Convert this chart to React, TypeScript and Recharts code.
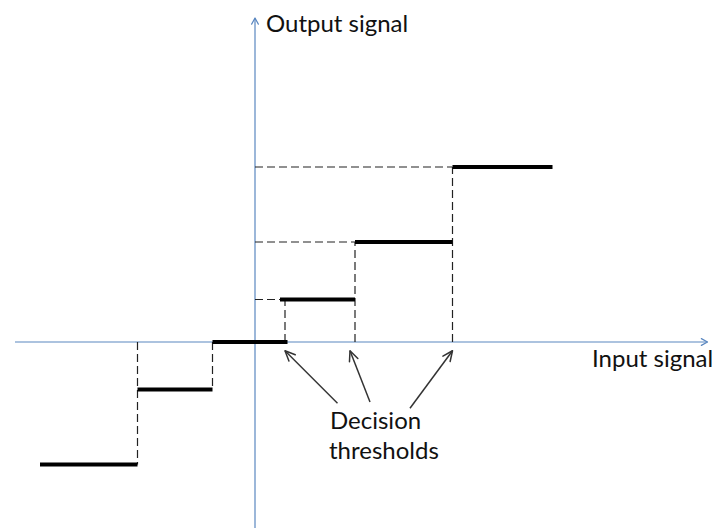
import React from "react";
import { LineChart, Line, XAxis, YAxis } from "recharts";

// ---- data (arbitrary signal units) ----
const thresholds = [-4.7, -1.7, 1.2, 4.0, 7.9];
const levels = [-4.9, -1.9, 0, 1.7, 4.0, 7.0];
const stepStarts = [-8.6, -4.7, -1.7, 1.0, 4.0, 7.9];
const stepEnds = [-4.7, -1.7, 1.3, 4.0, 7.9, 11.9];
const arrowTails = [
  [3.3, -2.45],
  [4.6, -2.4],
  [6.2, -2.65],
];
const arrowHeads = [
  [1.2, -0.35],
  [3.8, -0.35],
  [7.9, -0.35],
];
const xAxisRange = [-9.6, 18.1];
const yAxisRange = [-7.44, 12.96];
const xDomain = [-10.2, 18.28];
const yDomain = [-7.44, 13.68];
const yAxisTitle = "Output signal";
const xAxisTitle = "Input signal";
const annotationLines = ["Decision", "thresholds"];

const W = 712;
const H = 528;
const AXIS_COLOR = "#5a87c0";
const FONT = "Lato, 'Open Sans', sans-serif";

type Pt = { x: number; y: number };

const seg = (x1: number, y1: number, x2: number, y2: number): Pt[] => [
  { x: x1, y: y1 },
  { x: x2, y: y2 },
];

const steps = levels.map((lv, i) => seg(stepStarts[i], lv, stepEnds[i], lv));
const hGuides = levels
  .map((lv, i) => (lv > 0 ? seg(0, lv, stepStarts[i], lv) : null))
  .filter(Boolean) as Pt[][];
const vGuides = thresholds.map((t, j) =>
  seg(t, 0, t, t < 0 ? levels[j] : levels[j + 1])
);
const arrows = arrowTails.map((tl, i) =>
  seg(tl[0], tl[1], arrowHeads[i][0], arrowHeads[i][1])
);
const xAxisLine = seg(xAxisRange[0], 0, xAxisRange[1], 0);
const yAxisLine = seg(0, yAxisRange[0], 0, yAxisRange[1]);

const arrowDot =
  (data: Pt[], len: number, spread: number, color: string, width: number) =>
  (props: any) => {
    const { cx, cy, index, points } = props;
    const k = `ad-${index}-${cx}-${cy}`;
    if (index !== data.length - 1) return <g key={k} />;
    let ang: number;
    if (points && points[index - 1]) {
      const p = points[index - 1];
      ang = Math.atan2(cy - p.y, cx - p.x);
    } else {
      const a = data[index - 1];
      const b = data[index];
      ang = Math.atan2(-(b.y - a.y), b.x - a.x);
    }
    const a1 = ang + Math.PI - spread;
    const a2 = ang + Math.PI + spread;
    const d = `M ${cx + len * Math.cos(a1)} ${cy + len * Math.sin(a1)} L ${cx} ${cy} L ${
      cx + len * Math.cos(a2)
    } ${cy + len * Math.sin(a2)}`;
    return (
      <path
        key={k}
        d={d}
        fill="none"
        stroke={color}
        strokeWidth={width}
        strokeLinecap="round"
        strokeLinejoin="round"
      />
    );
  };

export default function App() {
  return (
    <div
      style={{
        position: "absolute",
        left: 0,
        top: 0,
        width: W,
        height: H,
        background: "#fff",
        overflow: "hidden",
      }}
    >
      <LineChart
        width={W}
        height={H}
        margin={{ top: 0, right: 0, bottom: 0, left: 0 }}
      >
        <XAxis
          type="number"
          dataKey="x"
          domain={xDomain}
          allowDataOverflow
          hide
        />
        <YAxis
          type="number"
          dataKey="y"
          domain={yDomain}
          allowDataOverflow
          hide
          width={0}
        />
        <Line
          data={xAxisLine}
          dataKey="y"
          stroke={AXIS_COLOR}
          strokeWidth={1.2}
          dot={arrowDot(xAxisLine, 7, 0.5, AXIS_COLOR, 1.2)}
          activeDot={false}
          isAnimationActive={false}
          legendType="none"
        />
        <Line
          data={yAxisLine}
          dataKey="y"
          stroke={AXIS_COLOR}
          strokeWidth={1.2}
          dot={arrowDot(yAxisLine, 7, 0.5, AXIS_COLOR, 1.2)}
          activeDot={false}
          isAnimationActive={false}
          legendType="none"
        />
        {hGuides.map((g, i) => (
          <Line
            key={`h${i}`}
            data={g}
            dataKey="y"
            stroke="#222"
            strokeWidth={1.2}
            strokeDasharray="8 4"
            dot={false}
            activeDot={false}
            isAnimationActive={false}
          />
        ))}
        {vGuides.map((g, i) => (
          <Line
            key={`v${i}`}
            data={g}
            dataKey="y"
            stroke="#222"
            strokeWidth={1.2}
            strokeDasharray="8 4"
            dot={false}
            activeDot={false}
            isAnimationActive={false}
          />
        ))}
        {steps.map((s, i) => (
          <Line
            key={`s${i}`}
            data={s}
            dataKey="y"
            stroke="#000"
            strokeWidth={4}
            dot={false}
            activeDot={false}
            isAnimationActive={false}
          />
        ))}
        {arrows.map((a, i) => (
          <Line
            key={`a${i}`}
            data={a}
            dataKey="y"
            stroke="#333"
            strokeWidth={1.5}
            dot={arrowDot(a, 11, 0.42, "#333", 1.5)}
            activeDot={false}
            isAnimationActive={false}
          />
        ))}
      </LineChart>
      <svg
        width={W}
        height={H}
        style={{ position: "absolute", left: 0, top: 0, pointerEvents: "none" }}
      >
        <g fontFamily={FONT} fontSize={24} fill="#111">
          <text x={266} y={32}>
            {yAxisTitle}
          </text>
          <text x={592} y={367}>
            {xAxisTitle}
          </text>
          <text x={330} y={429}>
            {annotationLines[0]}
          </text>
          <text x={329} y={459}>
            {annotationLines[1]}
          </text>
        </g>
      </svg>
    </div>
  );
}
